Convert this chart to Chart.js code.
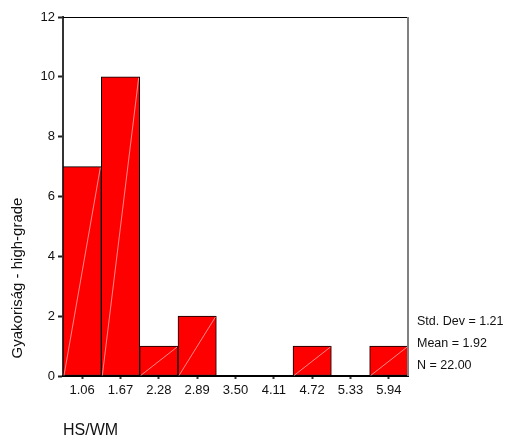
<!DOCTYPE html>
<html>
<head>
<meta charset="utf-8">
<script src="https://cdn.jsdelivr.net/npm/chart.js@4"></script>
<style>
  body { margin: 0; background: #fff; }
  canvas { display: block; }
</style>
</head>
<body>
<canvas id="histChart" width="506" height="441"></canvas>
<script>
const binLabels = ["1.06", "1.67", "2.28", "2.89", "3.50", "4.11", "4.72", "5.33", "5.94"];
const counts = [7, 10, 1, 2, 0, 0, 1, 0, 1];
const statLines = ["Std. Dev = 1.21", "Mean = 1.92", "N = 22.00"];
const yTitle = "Gyakoriság - high-grade";
const xTitle = "HS/WM";

const FONT = "'Liberation Sans', Arial, sans-serif";

// frame, diagonal shading lines and side texts
const extras = {
  id: "extras",
  afterDatasetsDraw(chart) {
    const ctx = chart.ctx;
    const meta = chart.getDatasetMeta(0);
    ctx.save();
    ctx.strokeStyle = "rgba(255, 190, 190, 0.9)";
    ctx.lineWidth = 0.8;
    meta.data.forEach((bar, i) => {
      if (!counts[i]) return;
      const p = bar.getProps(["x", "y", "base", "width"], true);
      ctx.beginPath();
      ctx.moveTo(p.x - p.width / 2 + 1, p.base);
      ctx.lineTo(p.x + p.width / 2 - 1, p.y + 1);
      ctx.stroke();
    });
    ctx.restore();
  },
  afterDraw(chart) {
    const ctx = chart.ctx;
    const a = chart.chartArea;
    ctx.save();
    // top border
    ctx.strokeStyle = "#000";
    ctx.lineWidth = 1;
    ctx.beginPath();
    ctx.moveTo(a.left, a.top + 0.5);
    ctx.lineTo(a.right, a.top + 0.5);
    ctx.stroke();
    // right border
    ctx.strokeStyle = "#808080";
    ctx.lineWidth = 2;
    ctx.beginPath();
    ctx.moveTo(a.right, a.top);
    ctx.lineTo(a.right, a.bottom);
    ctx.stroke();

    ctx.fillStyle = "#111";
    ctx.font = "12.5px " + FONT;
    ctx.textAlign = "left";
    ctx.textBaseline = "middle";
    statLines.forEach((s, i) => {
      ctx.fillText(s, a.right + 9, 322 + i * 22);
    });

    ctx.font = "16px " + FONT;
    ctx.fillText(xTitle, a.left, 431);

    ctx.translate(18, 278);
    ctx.rotate(-Math.PI / 2);
    ctx.textAlign = "center";
    ctx.font = "15px " + FONT;
    ctx.fillText(yTitle, 0, 0);
    ctx.restore();
  }
};

const ctx = document.getElementById("histChart").getContext("2d");
const histChart = new Chart(ctx, {
  type: "bar",
  data: {
    labels: binLabels,
    datasets: [
      {
        data: counts,
        backgroundColor: "#ff0000",
        borderColor: "#000",
        borderWidth: 1,
        borderSkipped: false,
        barPercentage: 1,
        categoryPercentage: 1,
      },
    ],
  },
  options: {
    responsive: false,
    animation: false,
    layout: {
      padding: { left: 0, top: 17, right: 98, bottom: 0 },
    },
    scales: {
      y: {
        min: 0,
        max: 12,
        ticks: {
          stepSize: 2,
          color: "#111",
          padding: 3,
          font: { family: FONT, size: 13 },
        },
        grid: {
          drawOnChartArea: false,
          tickLength: 5,
          tickWidth: 2,
          tickColor: "#222",
        },
        border: { color: "#333", width: 2 },
        afterFit(scale) {
          scale.width = 63;
        },
      },
      x: {
        ticks: {
          color: "#111",
          padding: 4,
          maxRotation: 0,
          autoSkip: false,
          font: { family: FONT, size: 13 },
        },
        grid: {
          offset: false,
          drawOnChartArea: false,
          tickLength: 3,
          tickWidth: 2,
          tickColor: "#333",
        },
        border: { color: "#000", width: 2 },
        afterFit(scale) {
          scale.height = 65;
        },
      },
    },
    plugins: {
      legend: { display: false },
      tooltip: { enabled: false },
    },
  },
  plugins: [extras],
});
</script>
</body>
</html>
